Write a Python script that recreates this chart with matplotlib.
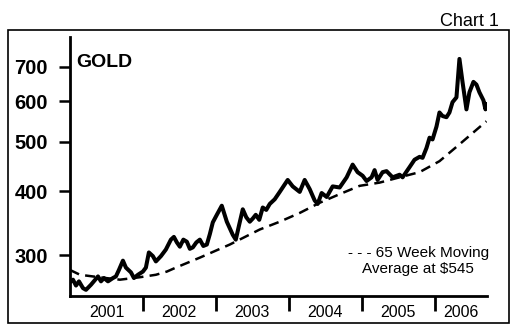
import matplotlib
matplotlib.use("Agg")
import matplotlib.pyplot as plt
from matplotlib.patches import Rectangle
from matplotlib.ticker import FixedLocator, NullLocator

plt.rcParams['font.family'] = ['Liberation Sans', 'DejaVu Sans']

# weekly-ish gold price (decimal year, $/oz)
gold_t = [2001.000, 2001.041, 2001.082, 2001.123, 2001.178, 2001.219, 2001.288, 2001.384,
          2001.425, 2001.466, 2001.521, 2001.589, 2001.630, 2001.671, 2001.726, 2001.767,
          2001.836, 2001.877, 2001.932, 2002.000, 2002.041, 2002.082, 2002.137, 2002.178,
          2002.247, 2002.315, 2002.384, 2002.425, 2002.466, 2002.507, 2002.555, 2002.603,
          2002.644, 2002.685, 2002.733, 2002.781, 2002.829, 2002.877, 2002.918, 2002.959,
          2003.014, 2003.082, 2003.151, 2003.233, 2003.274, 2003.322, 2003.370, 2003.418,
          2003.466, 2003.507, 2003.548, 2003.596, 2003.644, 2003.692, 2003.740, 2003.808,
          2003.877, 2003.986, 2004.055, 2004.151, 2004.219, 2004.288, 2004.356, 2004.397,
          2004.452, 2004.521, 2004.603, 2004.699, 2004.795, 2004.877, 2004.945, 2005.014,
          2005.068, 2005.137, 2005.178, 2005.219, 2005.288, 2005.342, 2005.425, 2005.521,
          2005.562, 2005.658, 2005.726, 2005.795, 2005.836, 2005.890, 2005.932, 2005.973,
          2006.027, 2006.068, 2006.110, 2006.164, 2006.205, 2006.247, 2006.301, 2006.342,
          2006.384, 2006.438, 2006.479, 2006.534, 2006.575, 2006.616, 2006.671, 2006.699,
          2006.712]
gold_px = [266, 269, 262, 267, 259, 257, 263, 273,
           267, 271, 267, 271, 273, 281, 293, 284,
           278, 271, 275, 279, 284, 304, 299, 292,
           299, 308, 322, 326, 318, 312, 322, 319,
           309, 311, 318, 322, 313, 315, 330, 348,
           360, 375, 349, 329, 322, 345, 369, 356,
           349, 354, 360, 352, 372, 368, 378, 386,
           399, 421, 409, 399, 421, 404, 384, 378,
           397, 390, 409, 407, 426, 451, 436, 429,
           419, 426, 440, 421, 436, 438, 426, 431,
           426, 446, 461, 467, 465, 486, 509, 505,
           535, 570, 561, 558, 570, 597, 610, 725,
           654, 578, 624, 654, 646, 624, 602, 578,
           592]

# 65 week moving average
ma_t = [2001.000, 2001.137, 2001.397, 2001.685, 2001.959, 2002.178, 2002.329, 2002.452,
        2002.781, 2003.192, 2003.603, 2003.877, 2004.151, 2004.425, 2004.699, 2004.973,
        2005.247, 2005.521, 2005.795, 2006.068, 2006.342, 2006.712]
ma_px = [281, 275, 272, 269, 272, 275, 279, 284,
         297, 315, 337, 349, 363, 380, 395, 410,
         416, 426, 436, 458, 494, 548]

years = [2001, 2002, 2003, 2004, 2005, 2006]
y_ticks = [300, 400, 500, 600, 700]

fig = plt.figure(figsize=(5.17, 3.34), dpi=100)
ax = fig.add_axes([70/517, 38/334, 417/517, 259/334])

ax.plot(gold_t, gold_px, color='black', lw=2.9, solid_joinstyle='round')
ma_line, = ax.plot(ma_t, ma_px, color='black', lw=1.8)
ma_line.set_dashes([4, 2.5])

ax.set_yscale('log')
ax.set_ylim(250, 800)
ax.set_xlim(2001, 2006.72)

ax.yaxis.set_major_locator(FixedLocator(y_ticks))
ax.yaxis.set_minor_locator(NullLocator())
ax.set_yticklabels([str(v) for v in y_ticks], fontsize=14.5, fontweight='bold')
ax.tick_params(axis='y', length=8, width=1.8, pad=8, direction='out')

# year boundaries as ticks, labels centred in each year
ax.xaxis.set_major_locator(FixedLocator(years[1:]))
ax.set_xticklabels([])
ax.tick_params(axis='x', length=11, width=2, direction='out')
for y in years:
    right = min(y + 1, 2006.72)
    ax.text((y + right) / 2, -0.062, str(y), transform=ax.get_xaxis_transform(),
            ha='center', va='center', fontsize=11.5)

for s in ['top', 'right']:
    ax.spines[s].set_visible(False)
for s in ['left', 'bottom']:
    ax.spines[s].set_linewidth(2)

ax.text(0.016, 0.9, 'GOLD', transform=ax.transAxes, fontsize=14, fontweight='bold',
        va='center', ha='left')
ax.text(0.835, 0.135, '- - - 65 Week Moving\nAverage at $545', transform=ax.transAxes,
        fontsize=11, ha='center', va='center', linespacing=1.25)

fig.text(499/517, 1 - 21/334, 'Chart 1', fontsize=13, ha='right', va='center')
fig.patches.append(Rectangle((8/517, 11/334), 501/517, 293/334, transform=fig.transFigure,
                             fill=False, edgecolor='black', lw=1.2))

fig.savefig('out.png', dpi=100)
